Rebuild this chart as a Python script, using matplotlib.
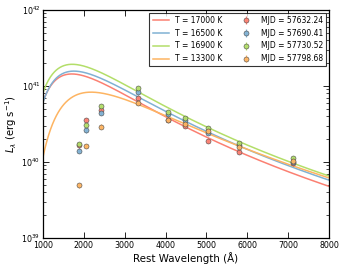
import matplotlib
matplotlib.use('Agg')
import matplotlib.pyplot as plt
import numpy as np

# Rest-frame filter wavelengths (Angstrom)
wave = [1873, 2052, 2428, 3325, 4059, 4467, 5046, 5797, 7111]

# Epochs and blackbody fits
mjd = ['57632.24', '57690.41', '57730.52', '57798.68']
temps = [17000, 16500, 16900, 13300]
peak_lum = [1.44e41, 1.57e41, 1.93e41, 8.3e40]

# Luminosities per epoch
lum_1 = [1.66e40, 3.57e40, 4.83e40, 6.95e40, 3.57e40, 3.00e40, 1.91e40, 1.37e40, 0.96e40]
lum_2 = [1.41e40, 2.61e40, 4.46e40, 8.30e40, 4.25e40, 3.57e40, 2.41e40, 1.66e40, 1.00e40]
lum_3 = [1.73e40, 3.10e40, 5.45e40, 9.30e40, 4.50e40, 3.80e40, 2.77e40, 1.79e40, 1.12e40]
lum_4 = [4.93e39, 1.63e40, 2.92e40, 6.00e40, 3.60e40, 3.16e40, 2.58e40, 1.57e40, 1.04e40]
lums = [lum_1, lum_2, lum_3, lum_4]
err_frac = 0.07

colors = ['#fb8072', '#80b1d3', '#b3de69', '#fdb462']


def planck(lam, T):
    # shape of B_lambda, lam in Angstrom
    x = 1.4388e8 / (lam * T)
    return lam ** -5 / np.expm1(x)


plt.rcParams['font.family'] = 'DejaVu Sans'
fig = plt.figure(figsize=(3.45, 2.68), dpi=100)
ax = fig.add_axes([0.1246, 0.1119, 0.829, 0.8508])

lam = np.linspace(1000, 8000, 600)
for T, A, c in zip(temps, peak_lum, colors):
    b = planck(lam, T)
    b_peak = planck(2.898e7 / T, T)
    ax.plot(lam, A * b / b_peak, color=c, lw=1.1, label='T = %d K' % T)

for m, L, c in zip(mjd, lums, colors):
    L = np.array(L)
    ax.errorbar(wave, L, yerr=err_frac * L, fmt='o', color=c, ms=3.6,
                mec='#444444', mew=0.4, ecolor=c, elinewidth=0.9, capsize=0,
                alpha=0.95, label='MJD = ' + m)

ax.set_yscale('log')
ax.set_xlim(1000, 8000)
ax.set_ylim(1e39, 1e42)
ax.set_xticks(range(1000, 8001, 1000))
ax.tick_params(which='both', direction='in', top=True, right=True, labelsize=5.7)
ax.tick_params(which='major', length=4, width=0.6)
ax.tick_params(which='minor', length=2, width=0.5)
ax.tick_params(axis='x', pad=2)
ax.tick_params(axis='y', pad=2)
for s in ax.spines.values():
    s.set_linewidth(0.9)
ax.set_xlabel('Rest Wavelength (Å)', fontsize=7.4, labelpad=2)
ax.set_ylabel(r'$L_\lambda$ (erg s$^{-1}$)', fontsize=7.2, labelpad=2)

leg = ax.legend(ncol=2, loc='upper right', fontsize=5.5, frameon=True,
                fancybox=False, edgecolor='black', handlelength=2.2,
                columnspacing=2.0, borderaxespad=0.35, labelspacing=0.5,
                handletextpad=0.8, borderpad=0.4)
leg.get_frame().set_linewidth(0.8)

fig.savefig('out.png', dpi=100)
